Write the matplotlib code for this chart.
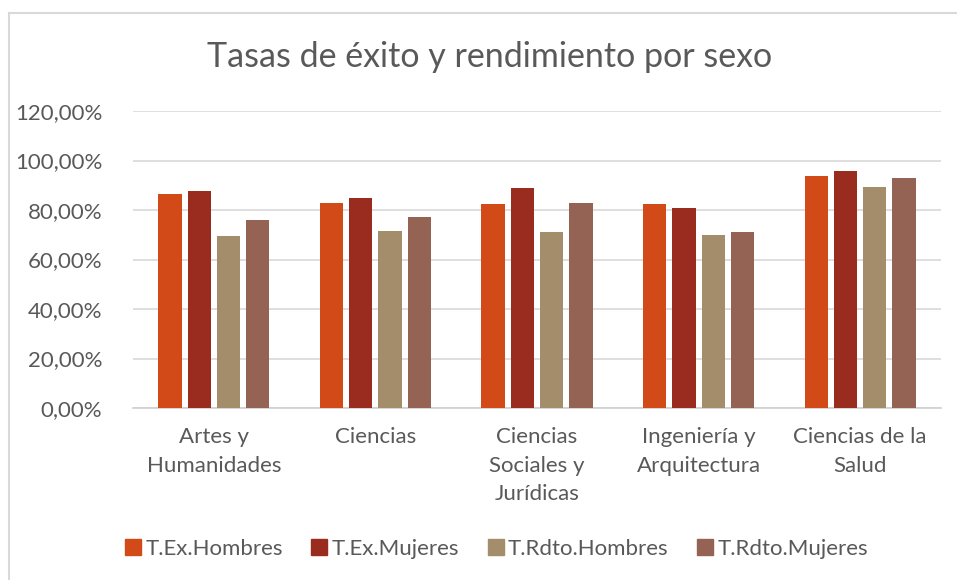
import matplotlib
matplotlib.use("Agg")
import matplotlib.pyplot as plt
import numpy as np
from matplotlib.lines import Line2D
from matplotlib.ticker import FuncFormatter

categories = ["Artes y\nHumanidades", "Ciencias", "Ciencias\nSociales y\nJurídicas",
              "Ingeniería y\nArquitectura", "Ciencias de la\nSalud"]
series_names = ["T.Ex.Hombres", "T.Ex.Mujeres", "T.Rdto.Hombres", "T.Rdto.Mujeres"]
tex_hombres = [86.5, 82.8, 82.6, 82.3, 93.9]
tex_mujeres = [87.7, 84.9, 89.0, 80.7, 95.8]
trdto_hombres = [69.5, 71.5, 71.1, 69.9, 89.4]
trdto_mujeres = [75.9, 77.2, 82.7, 71.0, 92.8]
yticks = [0, 20, 40, 60, 80, 100, 120]

colors = ["#D24A17", "#9A2B1F", "#A38D6A", "#956353"]
series = [tex_hombres, tex_mujeres, trdto_hombres, trdto_mujeres]

plt.rcParams['font.family'] = ['Lato', 'DejaVu Sans']
txt = "#595959"

W, H = 957, 580
fig = plt.figure(figsize=(W / 100, H / 100), dpi=100)
ax = fig.add_axes([133 / W, 1 - 408 / H, (941 - 133) / W, (408 - 111) / H])

x = np.arange(len(categories))
bw = 0.144
pitch = 0.181
for i, (vals, c) in enumerate(zip(series, colors)):
    ax.bar(x + (i - 1.5) * pitch, vals, width=bw, color=c, zorder=3)

ax.set_xlim(-0.5, len(categories) - 0.5)
ax.set_ylim(0, 120)
ax.set_yticks(yticks)
ax.yaxis.set_major_formatter(FuncFormatter(lambda v, p: f"{v:.2f}".replace(".", ",") + "%"))
ax.grid(axis="y", color="#D9D9D9", linewidth=1.2, zorder=0)
for s in ["top", "right", "left"]:
    ax.spines[s].set_visible(False)
ax.spines["bottom"].set_color("#D0D0D0")
ax.spines["bottom"].set_linewidth(1.2)
ax.tick_params(axis="both", length=0, labelsize=16, colors=txt)
ax.tick_params(axis="y", pad=22)
ax.tick_params(axis="x", pad=14)
ax.set_xticks(x)
ax.set_xticklabels(categories, linespacing=1.52)

fig.text(490 / W, 1 - 57 / H, "Tasas de éxito y rendimiento por sexo", ha="center", va="center",
         fontsize=24.5, color=txt)

handles = [Line2D([], [], marker="s", linestyle="none", markersize=11, color=c) for c in colors]
fig.legend(handles, series_names, loc="center", bbox_to_anchor=(495 / W, 1 - 549 / H),
           ncol=4, frameon=False, fontsize=16, labelcolor=txt, handletextpad=0.05,
           columnspacing=1.15, handlelength=1.0)

# outer chart border (top and left visible)
fig.add_artist(Line2D([9 / W, 9 / W], [1 - 13 / H, 0], transform=fig.transFigure, color="#D9D9D9", lw=1.5))
fig.add_artist(Line2D([9 / W, 1], [1 - 13 / H, 1 - 13 / H], transform=fig.transFigure, color="#D9D9D9", lw=1.5))

fig.savefig("out.png", dpi=100)
